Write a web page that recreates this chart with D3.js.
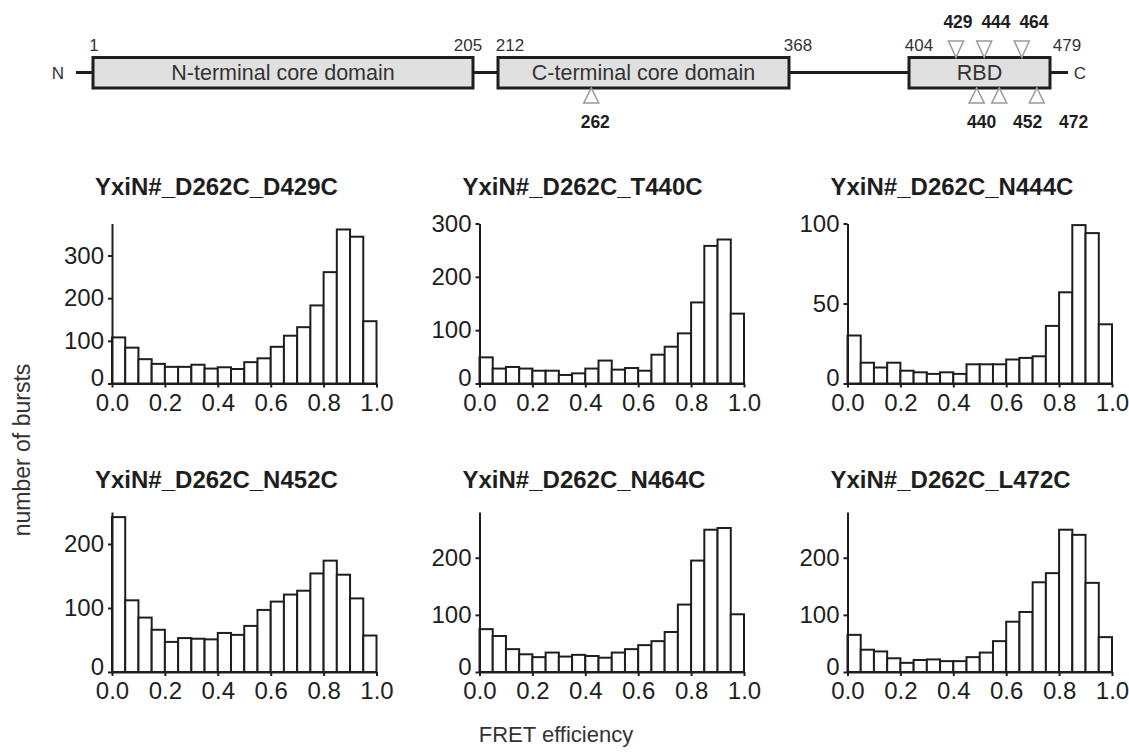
<!DOCTYPE html>
<html>
<head>
<meta charset="utf-8">
<script src="https://cdn.jsdelivr.net/npm/d3@7"></script>
<style>
  html, body { margin: 0; padding: 0; background: #fff; }
  svg { display: block; font-family: "Liberation Sans", Arial, sans-serif; }
</style>
</head>
<body>
<svg id="chart" width="1129" height="753"></svg>
<script>
// ---- Protein domain map ----
const domainNames = ["N-terminal core domain", "C-terminal core domain", "RBD"];
const domainStarts = [1, 212, 404];
const domainEnds = [205, 368, 479];
const sitesAbove = [429, 444, 464];
const sitesBelow = [262, 440, 452, 472];

// ---- FRET efficiency histograms (20 bins of 0.05) ----
const binStarts = [0.00, 0.05, 0.10, 0.15, 0.20, 0.25, 0.30, 0.35, 0.40, 0.45,
                   0.50, 0.55, 0.60, 0.65, 0.70, 0.75, 0.80, 0.85, 0.90, 0.95];
const binWidth = 0.05;
const titles = ["YxiN#_D262C_D429C", "YxiN#_D262C_T440C", "YxiN#_D262C_N444C",
                "YxiN#_D262C_N452C", "YxiN#_D262C_N464C", "YxiN#_D262C_L472C"];
const countsD429C = [108, 84, 57, 46, 39, 39, 44, 35, 38, 34, 50, 59, 86, 112, 132, 183, 261, 361, 344, 146];
const countsT440C = [49, 28, 31, 28, 24, 24, 16, 19, 28, 43, 26, 29, 24, 54, 69, 94, 152, 258, 270, 131];
const countsN444C = [30, 13, 10, 13, 8, 7, 6, 7, 6, 12, 12, 12, 15, 16, 17, 36, 57, 99, 94, 37];
const countsN452C = [242, 112, 85, 66, 47, 53, 52, 51, 61, 58, 72, 97, 110, 121, 127, 154, 174, 152, 115, 57];
const countsN464C = [75, 63, 40, 31, 26, 34, 27, 30, 28, 25, 34, 40, 47, 54, 70, 118, 195, 249, 252, 101];
const countsL472C = [65, 39, 36, 24, 16, 21, 22, 19, 19, 26, 34, 54, 88, 105, 157, 173, 249, 240, 156, 61];
const yMaxes = [375, 300, 100, 250, 280, 280];
const yTickSets = [[0, 100, 200, 300], [0, 100, 200, 300], [0, 50, 100],
                   [0, 100, 200], [0, 100, 200], [0, 100, 200]];
const xTicks = [0, 0.2, 0.4, 0.6, 0.8, 1.0];

const series = [countsD429C, countsT440C, countsN444C, countsN452C, countsN464C, countsL472C];

const svg = d3.select("#chart");
const ink = "#1e1e1e";

// ================= domain map =================
const map = svg.append("g");
const resX = d3.scaleLinear()
  .domain([1, 205, 212, 368, 404, 479])
  .range([93, 473, 498, 789, 909, 1050]);
const lineY = 72.5, boxTop = 57.5, boxBot = 88;

map.append("line")
  .attr("x1", resX(1) - 17).attr("x2", resX(479) + 18)
  .attr("y1", lineY).attr("y2", lineY)
  .attr("stroke", ink).attr("stroke-width", 3);

map.append("text").attr("x", resX(1) - 35).attr("y", lineY + 6)
  .attr("text-anchor", "middle").attr("font-size", 17).attr("fill", "#333").text("N");
map.append("text").attr("x", resX(479) + 30).attr("y", lineY + 6)
  .attr("text-anchor", "middle").attr("font-size", 17).attr("fill", "#333").text("C");

domainNames.forEach((name, i) => {
  const x0 = resX(domainStarts[i]), x1 = resX(domainEnds[i]);
  map.append("rect")
    .attr("x", x0).attr("y", boxTop).attr("width", x1 - x0).attr("height", boxBot - boxTop)
    .attr("fill", "#e0e0e0").attr("stroke", ink).attr("stroke-width", 3);
  map.append("text")
    .attr("x", (x0 + x1) / 2).attr("y", lineY + 7.5)
    .attr("text-anchor", "middle").attr("font-size", 21.5).attr("fill", "#333").text(name);
});

// boundary residue numbers
const startDx = [1, 12, 10];
const endDx = [-5, 9, 17];
domainStarts.forEach((r, i) => {
  map.append("text").attr("x", resX(r) + startDx[i]).attr("y", 51)
    .attr("text-anchor", "middle").attr("font-size", 17).attr("fill", "#333").text(r);
});
domainEnds.forEach((r, i) => {
  map.append("text").attr("x", resX(r) + endDx[i]).attr("y", 51)
    .attr("text-anchor", "middle").attr("font-size", 17).attr("fill", "#333").text(r);
});

// mutation sites: open triangles pointing at the bar, with spread labels
function spread(xs, dx, gap) {
  const out = [];
  xs.forEach((x, i) => {
    const v = x + dx;
    out.push(i === 0 ? v : Math.max(v, out[i - 1] + gap));
  });
  return out;
}
const triHalf = 7.5;
const aboveX = sitesAbove.map(resX);
const aboveLabelX = spread(aboveX, 2, 38);
sitesAbove.forEach((r, i) => {
  const x = aboveX[i];
  map.append("path")
    .attr("d", `M${x - triHalf},41 L${x + triHalf},41 L${x},${boxTop} Z`)
    .attr("fill", "#fff").attr("stroke", "#9a9a9a").attr("stroke-width", 1.5);
  map.append("text").attr("x", aboveLabelX[i]).attr("y", 28)
    .attr("text-anchor", "middle").attr("font-size", 17.5).attr("font-weight", "bold")
    .attr("fill", ink).text(r);
});

const belowX = sitesBelow.map(resX);
const rbdSites = sitesBelow.filter(r => r >= 404);
const rbdLabelX = spread(rbdSites.map(resX), 5, 46);
sitesBelow.forEach((r, i) => {
  const x = belowX[i];
  map.append("path")
    .attr("d", `M${x - triHalf},103 L${x + triHalf},103 L${x},${boxBot} Z`)
    .attr("fill", "#fff").attr("stroke", "#9a9a9a").attr("stroke-width", 1.5);
  const k = rbdSites.indexOf(r);
  const lx = k >= 0 ? rbdLabelX[k] : x + 4;
  map.append("text").attr("x", lx).attr("y", 128)
    .attr("text-anchor", "middle").attr("font-size", 17.5).attr("font-weight", "bold")
    .attr("fill", ink).text(r);
});

// ================= histogram panels =================
const colLeft = [112, 479.5, 847.5];
const rowBase = [383.5, 672];
const titleBase = [195, 488];
const plotW = 264.5, plotH = 160;

series.forEach((counts, idx) => {
  const col = idx % 3, row = Math.floor(idx / 3);
  const left = colLeft[col], base = rowBase[row];
  const g = svg.append("g");

  const x = d3.scaleLinear().domain([0, 1]).range([left, left + plotW]);
  const y = d3.scaleLinear().domain([0, yMaxes[idx]]).range([base, base - plotH]);

  g.append("text")
    .attr("x", left - 17).attr("y", titleBase[row])
    .attr("font-size", 24).attr("font-weight", "bold").attr("fill", ink)
    .text(titles[idx]);

  g.selectAll("rect.bar")
    .data(counts)
    .join("rect")
    .attr("class", "bar")
    .attr("x", (d, i) => x(binStarts[i]))
    .attr("width", (d, i) => x(binStarts[i] + binWidth) - x(binStarts[i]))
    .attr("y", d => y(d))
    .attr("height", d => base - y(d))
    .attr("fill", "#fff")
    .attr("stroke", ink)
    .attr("stroke-width", 2);

  const xAxis = g.append("g")
    .attr("transform", `translate(0,${base})`)
    .call(d3.axisBottom(x).tickValues(xTicks).tickFormat(d3.format(".1f"))
      .tickSize(4).tickSizeOuter(0).tickPadding(6));
  const yAxis = g.append("g")
    .attr("transform", `translate(${left},0)`)
    .call(d3.axisLeft(y).tickValues(yTickSets[idx]).tickFormat(d3.format("d"))
      .tickSize(4).tickSizeOuter(0).tickPadding(4));

  [xAxis, yAxis].forEach(a => {
    a.select(".domain").attr("stroke", ink).attr("stroke-width", 2);
    a.selectAll(".tick line").attr("stroke", ink).attr("stroke-width", 2);
    a.selectAll(".tick text")
      .attr("font-size", 24).attr("fill", ink)
      .attr("font-family", "Liberation Sans, Arial, sans-serif");
  });
  // lift the zero count label so it clears the efficiency labels below
  yAxis.selectAll(".tick text").filter(d => d === 0).attr("dy", "0.1em");
});

// shared axis titles
svg.append("text")
  .attr("transform", `translate(30,450) rotate(-90)`)
  .attr("text-anchor", "middle").attr("font-size", 23).attr("fill", "#333")
  .text("number of bursts");
svg.append("text")
  .attr("x", 556).attr("y", 742)
  .attr("text-anchor", "middle").attr("font-size", 22).attr("fill", "#333")
  .text("FRET efficiency");
</script>
</body>
</html>
